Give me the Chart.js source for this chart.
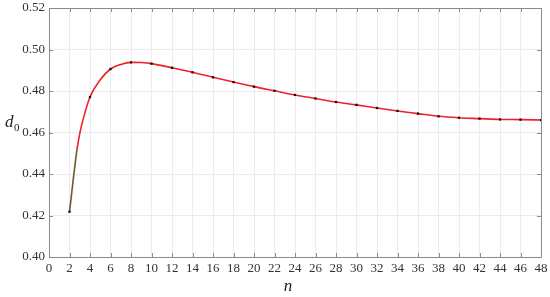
<!DOCTYPE html>
<html>
<head>
<meta charset="utf-8">
<script src="https://cdn.jsdelivr.net/npm/chart.js@4"></script>
<style>
html,body{margin:0;padding:0;background:#fff;}
#wrap{width:550px;height:297px;position:relative;}
</style>
</head>
<body>
<div id="wrap"><canvas id="c" width="550" height="297"></canvas></div>
<script>
// Markers (computed points)
const nValues = [2,4,6,8,10,12,14,16,18,20,22,24,26,28,30,32,34,36,38,40,42,44,46,48];
const d0Values = [0.4218,0.4771,0.4906,0.4938,0.4932,0.4912,0.4890,0.4866,0.4843,0.4821,0.4801,0.4781,0.4764,0.4747,0.4733,0.4718,0.4704,0.4691,0.4678,0.4671,0.4667,0.4663,0.4662,0.4660];
// Fitted curve (denser where it bends)
const curveN = [2,2.73,3,3.5,4,5,6,7,8,9,10,12,14,16,18,20,22,24,26,28,30,32,34,36,38,40,42,44,46,48];
const curveD = [0.4218,0.4517,0.4595,0.4694,0.4771,0.4854,0.4906,0.4928,0.4938,0.4937,0.4932,0.4912,0.4890,0.4866,0.4843,0.4821,0.4801,0.4781,0.4764,0.4747,0.4733,0.4718,0.4704,0.4691,0.4678,0.4671,0.4667,0.4663,0.4662,0.4660];
const xTicks = [0,2,4,6,8,10,12,14,16,18,20,22,24,26,28,30,32,34,36,38,40,42,44,46,48];
const yTicks = [0.40,0.42,0.44,0.46,0.48,0.50,0.52];

const FONT = "'Liberation Serif', serif";

const framePlugin = {
  id: 'frame',
  afterDraw(chart) {
    const ctx = chart.ctx;
    const a = chart.chartArea;
    const xs = chart.scales.x, ys = chart.scales.y;
    ctx.save();
    ctx.strokeStyle = '#8a8a8a';
    ctx.lineWidth = 1;
    ctx.beginPath();
    ctx.rect(Math.round(a.left)+0.5, Math.round(a.top)+0.5, Math.round(a.right-a.left), Math.round(a.bottom-a.top));
    ctx.stroke();
    const L = 4;
    ctx.beginPath();
    xTicks.forEach(v => {
      const px = Math.round(xs.getPixelForValue(v)) + 0.5;
      ctx.moveTo(px, a.bottom); ctx.lineTo(px, a.bottom - L);
      ctx.moveTo(px, a.top); ctx.lineTo(px, a.top + L);
    });
    yTicks.forEach(v => {
      const py = Math.round(ys.getPixelForValue(v)) + 0.5;
      ctx.moveTo(a.left, py); ctx.lineTo(a.left + L, py);
      ctx.moveTo(a.right, py); ctx.lineTo(a.right - L, py);
    });
    ctx.stroke();
    ctx.fillStyle = '#222';
    ctx.textBaseline = 'alphabetic';
    ctx.textAlign = 'center';
    ctx.font = "italic 17px " + FONT;
    ctx.fillText('n', 288, 291);
    ctx.textAlign = 'left';
    ctx.font = "italic 17px " + FONT;
    ctx.fillText('d', 5, 127);
    ctx.font = "11px " + FONT;
    ctx.fillText('0', 14, 131);
    ctx.restore();
  }
};

new Chart(document.getElementById('c'), {
  type: 'line',
  data: {
    datasets: [
      {
        data: nValues.map((n, i) => ({x: n, y: d0Values[i]})),
        showLine: false,
        pointStyle: 'rect',
        pointRadius: 1.6,
        pointBackgroundColor: '#111',
        pointBorderColor: '#111',
        pointBorderWidth: 0,
        order: 0
      },
      {
        data: curveN.map((n, i) => ({x: n, y: curveD[i]})),
        borderColor: '#f0202a',
        borderWidth: 1.6,
        cubicInterpolationMode: 'monotone',
        pointRadius: 0,
        segment: {
          borderColor: ctx => ctx.p0DataIndex === 0 ? '#6e5a26' : undefined
        },
        order: 1
      }
    ]
  },
  options: {
    responsive: false,
    animation: false,
    devicePixelRatio: 1,
    layout: { padding: { top: 8, right: 9, left: 0, bottom: 0 } },
    plugins: { legend: { display: false }, tooltip: { enabled: false } },
    scales: {
      x: {
        type: 'linear',
        min: 0, max: 48,
        afterBuildTicks(s) { s.ticks = xTicks.map(v => ({value: v})); },
        afterFit(s) { s.height = 40; s.paddingLeft = 0; s.paddingRight = 0; },
        grid: { color: '#ececec', lineWidth: 1, drawTicks: false },
        border: { display: false },
        ticks: {
          color: '#333',
          font: { family: FONT, size: 13 },
          padding: 4,
          maxRotation: 0,
          autoSkip: false,
          callback: v => String(v)
        }
      },
      y: {
        min: 0.40, max: 0.52,
        afterBuildTicks(s) { s.ticks = yTicks.map(v => ({value: v})); },
        afterFit(s) { s.width = 49; s.paddingTop = 0; s.paddingBottom = 0; },
        grid: { color: '#ececec', lineWidth: 1, drawTicks: false },
        border: { display: false },
        ticks: {
          color: '#333',
          font: { family: FONT, size: 13 },
          padding: 4,
          callback: v => Number(v).toFixed(2)
        }
      }
    }
  },
  plugins: [framePlugin]
});
</script>
</body>
</html>
